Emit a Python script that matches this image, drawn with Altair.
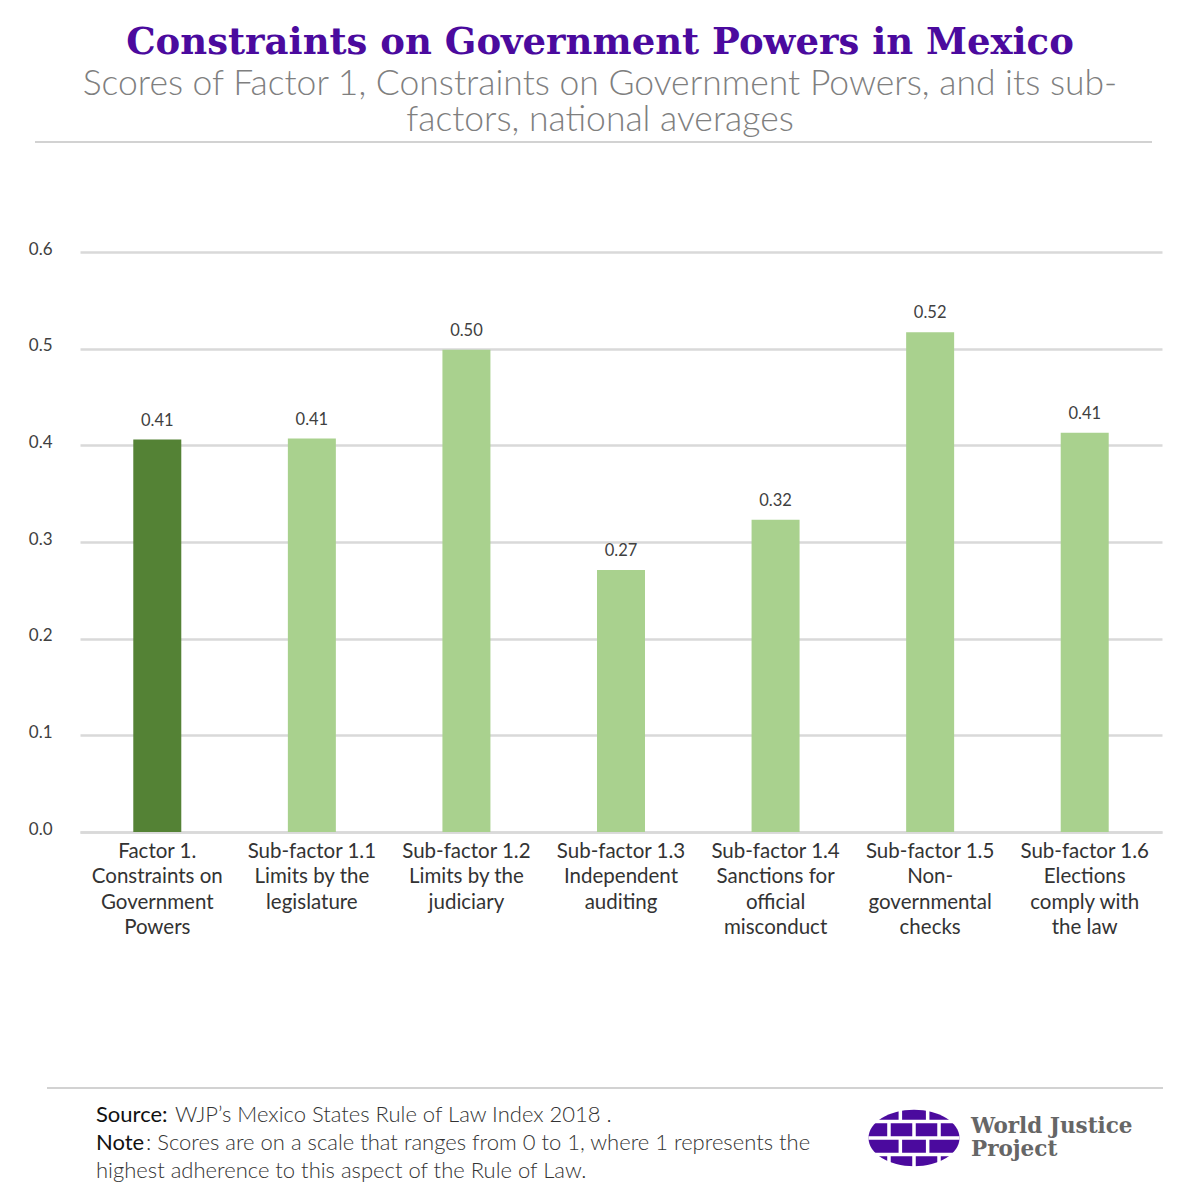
import altair as alt
import pandas as pd

categories = [
    "Factor 1.|Constraints on|Government|Powers",
    "Sub-factor 1.1|Limits by the|legislature",
    "Sub-factor 1.2|Limits by the|judiciary",
    "Sub-factor 1.3|Independent|auditing",
    "Sub-factor 1.4|Sanctions for|official|misconduct",
    "Sub-factor 1.5|Non-|governmental|checks",
    "Sub-factor 1.6|Elections|comply with|the law",
]
scores = [0.406, 0.407, 0.499, 0.271, 0.323, 0.517, 0.413]
kinds = ["Factor", "Sub-factor", "Sub-factor", "Sub-factor", "Sub-factor", "Sub-factor", "Sub-factor"]
y_ticks = [0.0, 0.1, 0.2, 0.3, 0.4, 0.5, 0.6]

title_text = "Constraints on Government Powers in Mexico"
subtitle_text = "Scores of Factor 1, Constraints on Government Powers, and its sub-|factors, national averages"
source_label = "Source:"
source_text = "WJP\u2019s Mexico States Rule of Law Index 2018 ."
note_label = "Note"
note_text = ": Scores  are on a scale that ranges from 0 to 1, where 1 represents the"
note_text2 = "highest adherence to this aspect of the Rule of Law."
logo_text = "World Justice|Project"

df = pd.DataFrame({"category": categories, "score": scores, "kind": kinds})

W, H = 1082, 580
PURPLE = "#4b0a9e"
SANS = "Lato"
SLAB = "DejaVu Serif"

x_enc = alt.X("category:N", sort=categories,
              scale=alt.Scale(paddingInner=0, paddingOuter=0),
              axis=alt.Axis(title=None, labelExpr="split(datum.value, '|')",
                            labelAngle=0, labelFont=SANS, labelFontSize=20.5,
                            labelColor="#333333", labelLineHeight=25.5,
                            labelPadding=9, ticks=False, domain=True,
                            domainColor="#d9d9d9", domainWidth=2.5,
                            labelBaseline="top"))
y_enc = alt.Y("score:Q", scale=alt.Scale(domain=[0, 0.6]),
              axis=alt.Axis(title=None, values=y_ticks, format=".1f",
                            labelFont=SANS, labelFontSize=17, labelColor="#404040",
                            labelPadding=28, ticks=False, domain=False,
                            gridColor="#d9d9d9", gridWidth=2.5, labelOffset=-3))

base = alt.Chart(df)
bars = base.mark_bar(size=48).encode(
    x=x_enc, y=y_enc,
    color=alt.Color("kind:N", scale=alt.Scale(domain=["Factor", "Sub-factor"],
                                              range=["#548235", "#a9d18e"]), legend=None),
)
labels = base.mark_text(font=SANS, fontSize=16.5, color="#404040", dy=-19, baseline="middle").encode(
    x=alt.X("category:N", sort=categories), y="score:Q", text=alt.Text("score:Q", format=".2f"))

def txt(s, x, y, size, color, font=SANS, weight="normal", align="left", lh=None):
    if lh is not None:
        kw = {"lineBreak": "|", "lineHeight": lh, "baseline": "top"}
    else:
        kw = {"baseline": "middle"}
    return alt.Chart(pd.DataFrame({"t": [s]})).mark_text(
        font=font, fontSize=size, color=color, fontWeight=weight, align=align,
        **kw).encode(x=alt.value(x), y=alt.value(y), text="t:N")

def rule(x1, x2, y, color, w):
    return alt.Chart(pd.DataFrame({"a": [0]})).mark_rule(color=color, strokeWidth=w).encode(
        x=alt.value(x1), x2=alt.value(x2), y=alt.value(y))

title = txt(title_text, 520, -209, 37, PURPLE, font=SLAB, weight="bold", align="center")
sub = txt(subtitle_text, 520, -185, 35.5, "#7f7f7f", weight=300, align="center", lh=36)
top_rule = rule(-45, 1072, -110, "#a6a6a6", 1.2)
bot_rule = rule(-33, 1083, 836, "#a6a6a6", 1.2)

src1 = txt(source_label, 16, 863, 22, "#111111")
src2 = txt(source_text, 95, 863, 22, "#333333", weight=300)
note1 = txt(note_label, 16, 891, 22, "#111111")
note2 = txt(note_text, 66, 891, 22, "#333333", weight=300)
note3 = txt(note_text2, 16, 919, 22, "#333333", weight=300)

# logo: purple globe approximation
globe = alt.Chart(pd.DataFrame({"a": [0]})).mark_point(
    shape="M-1,0 A1,0.62 0 1,0 1,0 A1,0.62 0 1,0 -1,0 Z", filled=True, opacity=1,
    color=PURPLE, size=8281).encode(x=alt.value(834), y=alt.value(886))
globe_lines = alt.Chart(pd.DataFrame({"a": [0]})).mark_point(
    shape=("M-1,-0.36 L1,-0.36 M-1,0 L1,0 M-1,0.36 L1,0.36 "
           "M-0.3,-0.7 L-0.3,-0.36 M0.3,-0.7 L0.3,-0.36 "
           "M-0.55,-0.36 L-0.55,0 M0.0,-0.36 L0.0,0 M0.55,-0.36 L0.55,0 "
           "M-0.3,0 L-0.3,0.36 M0.3,0 L0.3,0.36 "
           "M-0.55,0.36 L-0.55,0.7 M0.0,0.36 L0.0,0.7 M0.55,0.36 L0.55,0.7"),
    filled=False, opacity=1, color="white", strokeWidth=3.5, size=8281).encode(
    x=alt.value(834), y=alt.value(886))
wjp = txt(logo_text, 891, 864, 21.5, "#666666", font=SLAB, weight="bold", lh=23)

chart = alt.layer(bars, labels, title, sub, top_rule, bot_rule,
                  src1, src2, note1, note2, note3, globe, globe_lines, wjp).properties(
    width=W, height=H,
    autosize=alt.AutoSizeParams(type="none"),
    padding={"left": 72, "top": 244, "right": 30, "bottom": 370},
    background="white",
).configure_view(stroke=None)

chart.save("out.html", embed_options={"renderer": "svg", "actions": False})
